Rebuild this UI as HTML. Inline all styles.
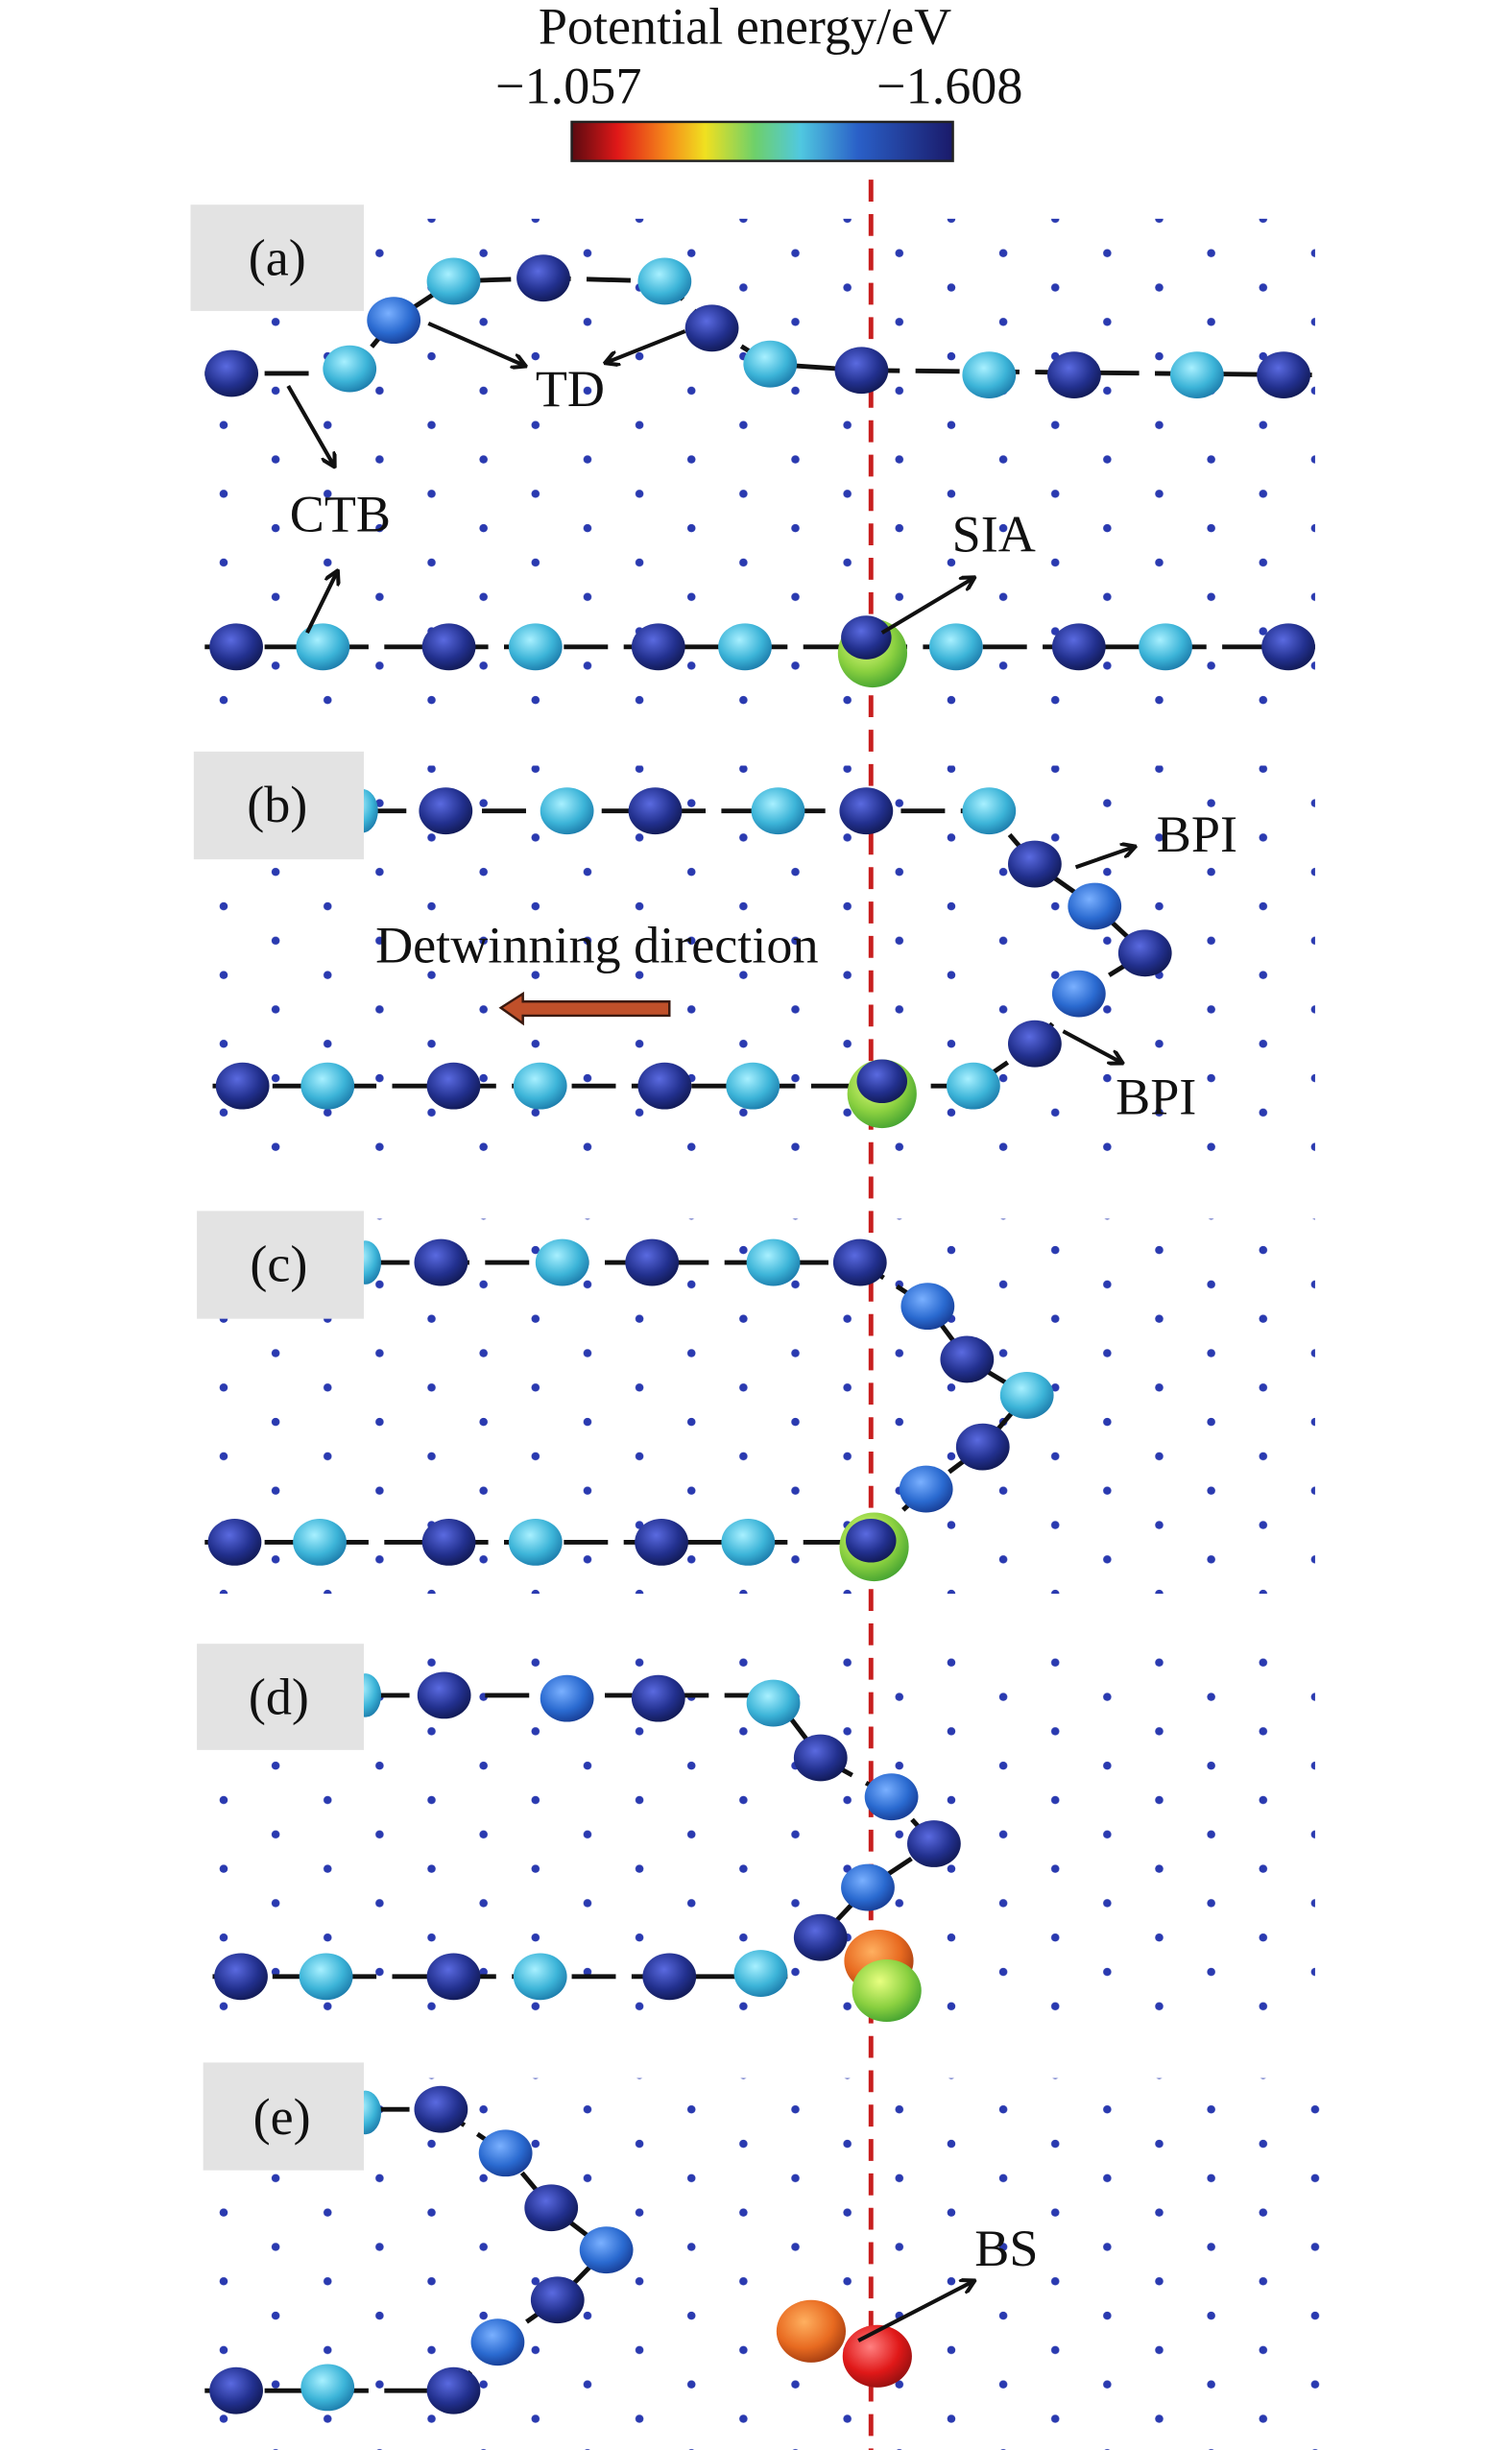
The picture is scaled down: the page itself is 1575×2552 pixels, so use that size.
<!DOCTYPE html>
<html><head><meta charset="utf-8"><style>
html,body{margin:0;padding:0;background:#fff;}
svg{display:block;}
text{font-family:"Liberation Serif",serif;fill:#111;}
</style></head><body>
<svg width="1575" height="2552" viewBox="0 0 960 1568" preserveAspectRatio="none" xmlns="http://www.w3.org/2000/svg">
<defs>
<linearGradient id="cb" x1="0" x2="1" y1="0" y2="0">
<stop offset="0" stop-color="#5a0a10"/><stop offset="0.12" stop-color="#e01818"/><stop offset="0.25" stop-color="#f58a1a"/><stop offset="0.35" stop-color="#f0e020"/><stop offset="0.48" stop-color="#6ed06a"/><stop offset="0.6" stop-color="#50c8e0"/><stop offset="0.75" stop-color="#2a60c8"/><stop offset="1" stop-color="#1a1a6a"/>
</linearGradient>
<radialGradient id="dk" cx="0.4" cy="0.35" r="0.7"><stop offset="0" stop-color="#5a6ae0"/><stop offset="0.6" stop-color="#22308e"/><stop offset="1" stop-color="#101850"/></radialGradient>
<radialGradient id="cy" cx="0.4" cy="0.35" r="0.7"><stop offset="0" stop-color="#a8f0ff"/><stop offset="0.6" stop-color="#3cb4d8"/><stop offset="1" stop-color="#1a78a8"/></radialGradient>
<radialGradient id="md" cx="0.4" cy="0.35" r="0.7"><stop offset="0" stop-color="#7ab0ff"/><stop offset="0.6" stop-color="#2a6ad0"/><stop offset="1" stop-color="#163a90"/></radialGradient>
<radialGradient id="gr" cx="0.4" cy="0.35" r="0.7"><stop offset="0" stop-color="#e8ff80"/><stop offset="0.6" stop-color="#8ad040"/><stop offset="1" stop-color="#40a030"/></radialGradient>
<radialGradient id="or" cx="0.4" cy="0.35" r="0.7"><stop offset="0" stop-color="#ffb060"/><stop offset="0.6" stop-color="#e86a20"/><stop offset="1" stop-color="#a03a10"/></radialGradient>
<radialGradient id="rd" cx="0.4" cy="0.35" r="0.7"><stop offset="0" stop-color="#ff8080"/><stop offset="0.6" stop-color="#e01818"/><stop offset="1" stop-color="#901010"/></radialGradient>
<pattern id="dots" width="66" height="44" patternUnits="userSpaceOnUse">
<circle cx="10" cy="8" r="2.6" fill="#2a3ab0"/><circle cx="43" cy="30" r="2.6" fill="#2a3ab0"/>
</pattern>
<marker id="ah" markerWidth="10" markerHeight="10" refX="8" refY="5" orient="auto" markerUnits="userSpaceOnUse"><path d="M0,0 L9,5 L0,10" fill="none" stroke="#111" stroke-width="2.5"/></marker>
</defs>

<text x="473" y="28" font-size="33" text-anchor="middle">Potential energy/eV</text>
<text x="361" y="66" font-size="33" text-anchor="middle">−1.057</text>
<text x="603" y="66" font-size="33" text-anchor="middle">−1.608</text>
<rect x="363" y="78" width="242" height="25" fill="url(#cb)" stroke="#222" stroke-width="1.5"/>

<rect x="130" y="140" width="705" height="320" fill="url(#dots)"/>
<rect x="130" y="490" width="705" height="250" fill="url(#dots)"/>
<rect x="130" y="780" width="705" height="240" fill="url(#dots)"/>
<rect x="130" y="1060" width="705" height="240" fill="url(#dots)"/>
<rect x="130" y="1330" width="710" height="238" fill="url(#dots)"/>

<line x1="553" y1="115" x2="553" y2="1568" stroke="#c81e1e" stroke-width="3" stroke-dasharray="14,8"/>

<g stroke="#111" stroke-width="3" fill="none">
<polyline points="130,239 222,239 250,205 288,180 345,178 422,180 452,210 489,233 547,237 833,240" stroke-dasharray="28,10"/>
<line x1="130" y1="414" x2="835" y2="414" stroke-dasharray="28,10"/>
<polyline points="230,519 628,519 657,553 695,580 727,610 685,636 657,668 618,695" stroke-dasharray="28,10"/>
<line x1="135" y1="695" x2="618" y2="695" stroke-dasharray="28,10"/>
<polyline points="232,808 546,808 589,836 614,870 652,893 624,926 588,953 553,985" stroke-dasharray="28,10"/>
<line x1="130" y1="987" x2="553" y2="987" stroke-dasharray="28,10"/>
<polyline points="232,1085 491,1085 521,1125 566,1150 593,1180 551,1208 521,1240" stroke-dasharray="28,10"/>
<line x1="135" y1="1265" x2="500" y2="1265" stroke-dasharray="28,10"/>
<polyline points="232,1350 280,1350 321,1378 350,1413 385,1440 354,1472 316,1499 288,1530" stroke-dasharray="28,10"/>
<line x1="130" y1="1530" x2="288" y2="1530" stroke-dasharray="28,10"/>
</g>

<g>
<ellipse cx="147" cy="239" rx="17" ry="15" fill="url(#dk)"/>
<ellipse cx="222" cy="236" rx="17" ry="15" fill="url(#cy)"/>
<ellipse cx="250" cy="205" rx="17" ry="15" fill="url(#md)"/>
<ellipse cx="288" cy="180" rx="17" ry="15" fill="url(#cy)"/>
<ellipse cx="345" cy="178" rx="17" ry="15" fill="url(#dk)"/>
<ellipse cx="422" cy="180" rx="17" ry="15" fill="url(#cy)"/>
<ellipse cx="452" cy="210" rx="17" ry="15" fill="url(#dk)"/>
<ellipse cx="489" cy="233" rx="17" ry="15" fill="url(#cy)"/>
<ellipse cx="547" cy="237" rx="17" ry="15" fill="url(#dk)"/>
<ellipse cx="628" cy="240" rx="17" ry="15" fill="url(#cy)"/>
<ellipse cx="682" cy="240" rx="17" ry="15" fill="url(#dk)"/>
<ellipse cx="760" cy="240" rx="17" ry="15" fill="url(#cy)"/>
<ellipse cx="815" cy="240" rx="17" ry="15" fill="url(#dk)"/>
<ellipse cx="150" cy="414" rx="17" ry="15" fill="url(#dk)"/>
<ellipse cx="205" cy="414" rx="17" ry="15" fill="url(#cy)"/>
<ellipse cx="285" cy="414" rx="17" ry="15" fill="url(#dk)"/>
<ellipse cx="340" cy="414" rx="17" ry="15" fill="url(#cy)"/>
<ellipse cx="418" cy="414" rx="17" ry="15" fill="url(#dk)"/>
<ellipse cx="473" cy="414" rx="17" ry="15" fill="url(#cy)"/>
<ellipse cx="554" cy="418" rx="22" ry="22" fill="url(#gr)"/>
<ellipse cx="550" cy="408" rx="16" ry="14" fill="url(#dk)"/>
<ellipse cx="607" cy="414" rx="17" ry="15" fill="url(#cy)"/>
<ellipse cx="685" cy="414" rx="17" ry="15" fill="url(#dk)"/>
<ellipse cx="740" cy="414" rx="17" ry="15" fill="url(#cy)"/>
<ellipse cx="818" cy="414" rx="17" ry="15" fill="url(#dk)"/>
<ellipse cx="230" cy="519" rx="10" ry="14" fill="url(#cy)"/>
<ellipse cx="283" cy="519" rx="17" ry="15" fill="url(#dk)"/>
<ellipse cx="360" cy="519" rx="17" ry="15" fill="url(#cy)"/>
<ellipse cx="416" cy="519" rx="17" ry="15" fill="url(#dk)"/>
<ellipse cx="494" cy="519" rx="17" ry="15" fill="url(#cy)"/>
<ellipse cx="550" cy="519" rx="17" ry="15" fill="url(#dk)"/>
<ellipse cx="628" cy="519" rx="17" ry="15" fill="url(#cy)"/>
<ellipse cx="657" cy="553" rx="17" ry="15" fill="url(#dk)"/>
<ellipse cx="695" cy="580" rx="17" ry="15" fill="url(#md)"/>
<ellipse cx="727" cy="610" rx="17" ry="15" fill="url(#dk)"/>
<ellipse cx="685" cy="636" rx="17" ry="15" fill="url(#md)"/>
<ellipse cx="657" cy="668" rx="17" ry="15" fill="url(#dk)"/>
<ellipse cx="618" cy="695" rx="17" ry="15" fill="url(#cy)"/>
<ellipse cx="154" cy="695" rx="17" ry="15" fill="url(#dk)"/>
<ellipse cx="208" cy="695" rx="17" ry="15" fill="url(#cy)"/>
<ellipse cx="288" cy="695" rx="17" ry="15" fill="url(#dk)"/>
<ellipse cx="343" cy="695" rx="17" ry="15" fill="url(#cy)"/>
<ellipse cx="422" cy="695" rx="17" ry="15" fill="url(#dk)"/>
<ellipse cx="478" cy="695" rx="17" ry="15" fill="url(#cy)"/>
<ellipse cx="560" cy="700" rx="22" ry="22" fill="url(#gr)"/>
<ellipse cx="560" cy="692" rx="16" ry="14" fill="url(#dk)"/>
<ellipse cx="232" cy="808" rx="10" ry="14" fill="url(#cy)"/>
<ellipse cx="280" cy="808" rx="17" ry="15" fill="url(#dk)"/>
<ellipse cx="357" cy="808" rx="17" ry="15" fill="url(#cy)"/>
<ellipse cx="414" cy="808" rx="17" ry="15" fill="url(#dk)"/>
<ellipse cx="491" cy="808" rx="17" ry="15" fill="url(#cy)"/>
<ellipse cx="546" cy="808" rx="17" ry="15" fill="url(#dk)"/>
<ellipse cx="589" cy="836" rx="17" ry="15" fill="url(#md)"/>
<ellipse cx="614" cy="870" rx="17" ry="15" fill="url(#dk)"/>
<ellipse cx="652" cy="893" rx="17" ry="15" fill="url(#cy)"/>
<ellipse cx="624" cy="926" rx="17" ry="15" fill="url(#dk)"/>
<ellipse cx="588" cy="953" rx="17" ry="15" fill="url(#md)"/>
<ellipse cx="149" cy="987" rx="17" ry="15" fill="url(#dk)"/>
<ellipse cx="203" cy="987" rx="17" ry="15" fill="url(#cy)"/>
<ellipse cx="285" cy="987" rx="17" ry="15" fill="url(#dk)"/>
<ellipse cx="340" cy="987" rx="17" ry="15" fill="url(#cy)"/>
<ellipse cx="420" cy="987" rx="17" ry="15" fill="url(#dk)"/>
<ellipse cx="475" cy="987" rx="17" ry="15" fill="url(#cy)"/>
<ellipse cx="555" cy="990" rx="22" ry="22" fill="url(#gr)"/>
<ellipse cx="553" cy="986" rx="16" ry="14" fill="url(#dk)"/>
<ellipse cx="232" cy="1085" rx="10" ry="14" fill="url(#cy)"/>
<ellipse cx="282" cy="1085" rx="17" ry="15" fill="url(#dk)"/>
<ellipse cx="360" cy="1087" rx="17" ry="15" fill="url(#md)"/>
<ellipse cx="418" cy="1087" rx="17" ry="15" fill="url(#dk)"/>
<ellipse cx="491" cy="1090" rx="17" ry="15" fill="url(#cy)"/>
<ellipse cx="521" cy="1125" rx="17" ry="15" fill="url(#dk)"/>
<ellipse cx="566" cy="1150" rx="17" ry="15" fill="url(#md)"/>
<ellipse cx="593" cy="1180" rx="17" ry="15" fill="url(#dk)"/>
<ellipse cx="551" cy="1208" rx="17" ry="15" fill="url(#md)"/>
<ellipse cx="521" cy="1240" rx="17" ry="15" fill="url(#dk)"/>
<ellipse cx="558" cy="1255" rx="22" ry="20" fill="url(#or)"/>
<ellipse cx="563" cy="1274" rx="22" ry="20" fill="url(#gr)"/>
<ellipse cx="153" cy="1265" rx="17" ry="15" fill="url(#dk)"/>
<ellipse cx="207" cy="1265" rx="17" ry="15" fill="url(#cy)"/>
<ellipse cx="288" cy="1265" rx="17" ry="15" fill="url(#dk)"/>
<ellipse cx="343" cy="1265" rx="17" ry="15" fill="url(#cy)"/>
<ellipse cx="425" cy="1265" rx="17" ry="15" fill="url(#dk)"/>
<ellipse cx="483" cy="1263" rx="17" ry="15" fill="url(#cy)"/>
<ellipse cx="232" cy="1352" rx="10" ry="14" fill="url(#cy)"/>
<ellipse cx="280" cy="1350" rx="17" ry="15" fill="url(#dk)"/>
<ellipse cx="321" cy="1378" rx="17" ry="15" fill="url(#md)"/>
<ellipse cx="350" cy="1413" rx="17" ry="15" fill="url(#dk)"/>
<ellipse cx="385" cy="1440" rx="17" ry="15" fill="url(#md)"/>
<ellipse cx="354" cy="1472" rx="17" ry="15" fill="url(#dk)"/>
<ellipse cx="316" cy="1499" rx="17" ry="15" fill="url(#md)"/>
<ellipse cx="288" cy="1530" rx="17" ry="15" fill="url(#dk)"/>
<ellipse cx="150" cy="1530" rx="17" ry="15" fill="url(#dk)"/>
<ellipse cx="208" cy="1528" rx="17" ry="15" fill="url(#cy)"/>
<ellipse cx="515" cy="1492" rx="22" ry="20" fill="url(#or)"/>
<ellipse cx="557" cy="1508" rx="22" ry="20" fill="url(#rd)"/>
</g>

<g stroke="#111" stroke-width="2.5" fill="none" marker-end="url(#ah)">
<line x1="272" y1="207" x2="333" y2="234"/>
<line x1="435" y1="212" x2="385" y2="232"/>
<line x1="183" y1="247" x2="212" y2="298"/>
<line x1="195" y1="405" x2="214" y2="366"/>
<line x1="560" y1="405" x2="618" y2="370"/>
<line x1="683" y1="555" x2="720" y2="542"/>
<line x1="675" y1="660" x2="712" y2="680"/>
<line x1="545" y1="1498" x2="618" y2="1460"/>
</g>
<polygon points="318,645 332,636 332,641 425,641 425,650 332,650 332,655" fill="#c0502a" stroke="#3a1a10" stroke-width="1.5"/>

<g font-size="33">
<text x="362" y="260" text-anchor="middle">TD</text>
<text x="216" y="340" text-anchor="middle">CTB</text>
<text x="631" y="353" text-anchor="middle">SIA</text>
<text x="760" y="545" text-anchor="middle">BPI</text>
<text x="734" y="713" text-anchor="middle">BPI</text>
<text x="379" y="616" text-anchor="middle">Detwinning direction</text>
<text x="639" y="1450" text-anchor="middle">BS</text>
</g>

<g fill="#e3e3e3">
<rect x="121" y="131" width="110" height="68"/>
<rect x="123" y="481" width="108" height="69"/>
<rect x="125" y="775" width="106" height="69"/>
<rect x="125" y="1052" width="106" height="68"/>
<rect x="129" y="1320" width="102" height="69"/>
</g>
<g font-size="33" text-anchor="middle">
<text x="176" y="176">(a)</text>
<text x="176" y="526">(b)</text>
<text x="177" y="820">(c)</text>
<text x="177" y="1097">(d)</text>
<text x="179" y="1366">(e)</text>
</g>
</svg>
</body></html>
